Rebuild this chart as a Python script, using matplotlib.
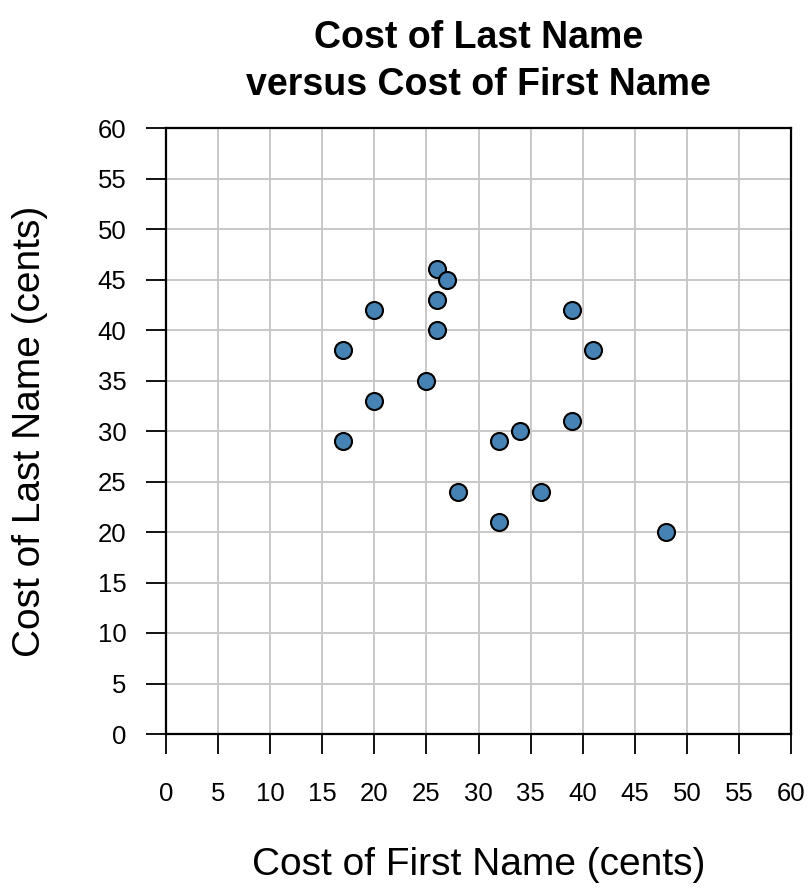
import numpy as np
import matplotlib
matplotlib.use("Agg")
import matplotlib.pyplot as plt

plt.rcParams['font.family'] = ['Liberation Sans', 'DejaVu Sans']

# cost of first name vs cost of last name, in cents
first_cost = [17, 17, 20, 20, 25, 26, 27, 26, 26, 28, 32, 32, 34, 36, 39, 39, 41, 48]
last_cost = [38, 29, 42, 33, 35, 46, 45, 43, 40, 24, 29, 21, 30, 24, 42, 31, 38, 20]
ticks = list(range(0, 61, 5))

fig = plt.figure(figsize=(8.09, 8.92), dpi=100)
ax = fig.add_axes([166/809, 1 - 734/892, (791 - 166)/809, (734 - 128)/892])

ax.set_xlim(0, 60)
ax.set_ylim(0, 60)
ax.set_xticks(ticks)
ax.set_yticks(ticks)
ax.grid(True, color='#c8c8c8', linewidth=1.4)
ax.set_axisbelow(True)

ax.scatter(first_cost, last_cost, s=150, c='#4682b4', edgecolors='black',
           linewidths=1.5, zorder=3, clip_on=False)

for sp in ax.spines.values():
    sp.set_linewidth(1.6)
ax.tick_params(axis='both', length=14.4, width=1.3, labelsize=18.5)
ax.tick_params(axis='x', pad=20)
ax.tick_params(axis='y', pad=14)

ax.set_xlabel('Cost of First Name (cents)', fontsize=28, labelpad=30)
ax.set_ylabel('Cost of Last Name (cents)', fontsize=28, labelpad=36)
ax.set_title('Cost of Last Name\nversus Cost of First Name', fontsize=27,
             fontweight='bold', pad=24, linespacing=1.37)

fig.savefig('out.png', dpi=100)
